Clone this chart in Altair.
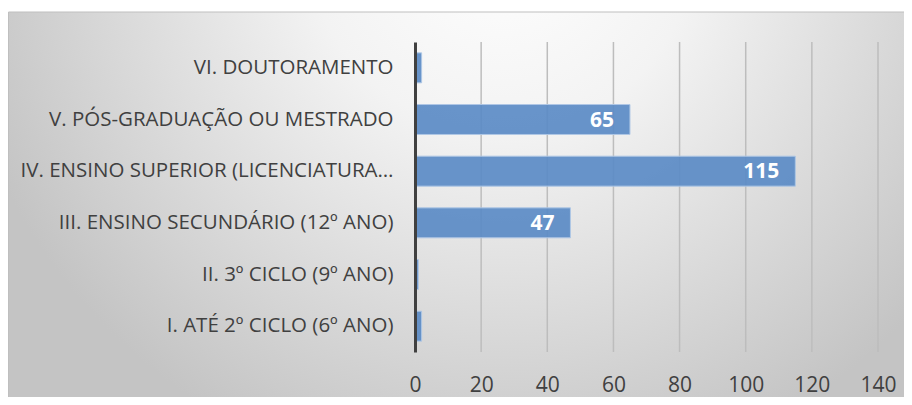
import altair as alt
import pandas as pd

categories = [
    "VI. DOUTORAMENTO",
    "V. PÓS-GRADUAÇÃO OU MESTRADO",
    "IV. ENSINO SUPERIOR (LICENCIATURA…",
    "III. ENSINO SECUNDÁRIO (12º ANO)",
    "II. 3º CICLO (9º ANO)",
    "I. ATÉ 2º CICLO (6º ANO)",
]
values = [2, 65, 115, 47, 1, 2]
x_ticks = [0, 20, 40, 60, 80, 100, 120, 140]
grid_ticks = [20, 40, 60, 80, 100, 120, 140]

df = pd.DataFrame({"cat": categories, "val": values})
df["label"] = [str(v) if v >= 10 else "" for v in values]
grid_df = pd.DataFrame({"val": grid_ticks})

FONT = "Open Sans"
FS = 21
W, H = 463, 310
PAD_L, PAD_T, PAD_R, PAD_B = 407, 34, 26, 45

bg = alt.Chart(pd.DataFrame({"a": [0]})).mark_rect(
    clip=False,
    fill={
        "gradient": "radial",
        "x1": 0.55, "y1": 0.2, "r1": 0,
        "x2": 0.55, "y2": 0.2, "r2": 0.62,
        "stops": [
            {"offset": 0, "color": "#FFFFFF"},
            {"offset": 0.35, "color": "#F3F3F3"},
            {"offset": 1, "color": "#C4C4C4"},
        ],
    },
    stroke="#BFBFBF",
    strokeWidth=1,
).encode(
    x=alt.value(-PAD_L + 0.5),
    x2=alt.value(W + PAD_R + 2),
    y=alt.value(-30),
    y2=alt.value(H + PAD_B + 2),
)

xscale = alt.Scale(domain=[0, 140], nice=False)
x_axis = alt.Axis(
    values=x_ticks,
    labelFontSize=FS,
    labelFont=FONT,
    labelColor="#404040",
    labelPadding=22,
    labelFlush=False,
    labelOverlap=False,
    ticks=False,
    domain=False,
    grid=False,
    zindex=1,
)

grid = alt.Chart(grid_df).mark_rule(color="#BDBDBD", strokeWidth=1.5).encode(
    x=alt.X("val:Q", scale=xscale, axis=x_axis, title=None),
    y=alt.value(0),
    y2=alt.value(H),
)

y_enc = alt.Y(
    "cat:N",
    sort=categories,
    title=None,
    scale=alt.Scale(paddingInner=0.42, paddingOuter=0.21),
    axis=alt.Axis(
        labelFontSize=20.5,
        labelFont=FONT,
        labelColor="#404040",
        labelPadding=22,
        labelLimit=420,
        ticks=False,
        domain=True,
        domainColor="#404040",
        domainWidth=3,
        grid=False,
        zindex=1,
    ),
)
x_enc = alt.X("val:Q", title=None, scale=xscale, axis=x_axis)

bars = alt.Chart(df).mark_bar(
    fill="#5B8BC6", fillOpacity=0.92, stroke="#AFC7E5", strokeWidth=1
).encode(x=x_enc, y=y_enc)

labels = alt.Chart(df).mark_text(
    align="right", baseline="middle", dx=-16, dy=1, color="white",
    fontWeight="bold", fontSize=FS, font=FONT
).encode(
    x=alt.X("val:Q"),
    y=alt.Y("cat:N", sort=categories),
    text="label:N",
)

chart = alt.layer(bg, grid, bars, labels).properties(
    width=W,
    height=H,
    autosize=alt.AutoSizeParams(type="none"),
    padding={"left": PAD_L, "top": PAD_T, "right": PAD_R, "bottom": PAD_B},
).configure_view(stroke=None).configure(background="#FFFFFF")

chart.save("out.html", embed_options={"renderer": "svg", "actions": False})
